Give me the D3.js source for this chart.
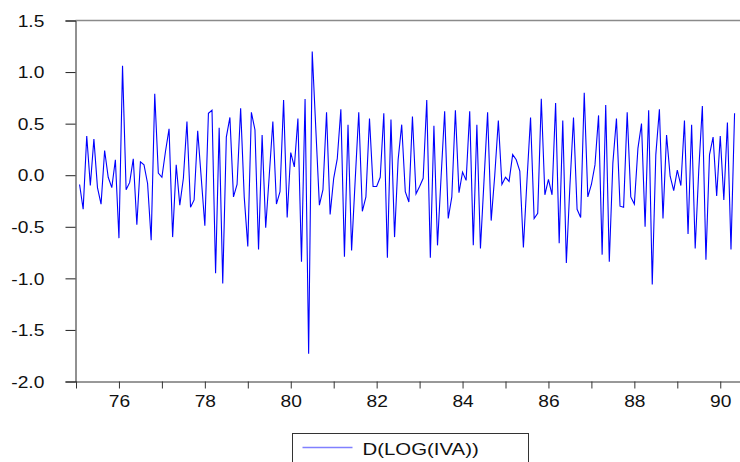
<!DOCTYPE html>
<html>
<head>
<meta charset="utf-8">
<script src="https://cdn.jsdelivr.net/npm/d3@7"></script>
<style>
  body { margin: 0; background: #fff; }
  svg { display: block; }
  .axis text { font-family: "Liberation Sans", Arial, sans-serif; font-size: 16px; fill: #111; }
</style>
</head>
<body>
<div id="root"></div>
<script>
// monthly series, first obs 1975M2
const startYear = 1975,
    startMonth = 2;

const dlogIva = [
    -0.09, -0.33, 0.38, -0.10, 0.35, -0.12, -0.28, 0.24, -0.02, -0.12, 0.15, -0.61,
    1.06, -0.14, -0.07, 0.16, -0.48, 0.13, 0.10, -0.08, -0.63, 0.79, 0.02, -0.02,
    0.23, 0.45, -0.60, 0.10, -0.29, -0.03, 0.52, -0.31, -0.24, 0.43, -0.03, -0.49,
    0.60, 0.63, -0.95, 0.46, -1.05, 0.37, 0.56, -0.21, -0.09, 0.65, -0.21, -0.69,
    0.61, 0.44, -0.72, 0.39, -0.51, 0.00, 0.52, -0.28, -0.16, 0.73, -0.41, 0.22,
    0.08, 0.55, -0.84, 0.74, -1.73, 1.20, 0.45, -0.29, -0.14, 0.61, -0.38, -0.03,
    0.16, 0.64, -0.79, 0.49, -0.73, -0.05, 0.61, -0.35, -0.21, 0.55, -0.11, -0.11,
    -0.02, 0.60, -0.80, 0.54, -0.60, 0.15, 0.49, -0.16, -0.26, 0.57, -0.18, -0.11,
    -0.03, 0.73, -0.80, 0.48, -0.68, -0.02, 0.62, -0.42, -0.21, 0.63, -0.17, 0.03,
    -0.05, 0.62, -0.68, 0.49, -0.71, -0.05, 0.61, -0.44, 0.00, 0.53, -0.09, -0.02,
    -0.06, 0.20, 0.15, 0.04, -0.70, -0.05, 0.56, -0.42, -0.37, 0.74, -0.19, -0.04,
    -0.19, 0.70, -0.66, 0.53, -0.85, -0.10, 0.56, -0.33, -0.41, 0.80, -0.21, -0.09,
    0.10, 0.58, -0.77, 0.68, -0.84, 0.12, 0.55, -0.30, -0.31, 0.61, -0.21, -0.28,
    0.26, 0.50, -0.50, 0.63, -1.06, 0.20, 0.64, -0.42, 0.39, -0.01, -0.15, 0.05,
    -0.10, 0.53, -0.57, 0.49, -0.71, 0.05, 0.67, -0.82, 0.20, 0.37, -0.20, 0.38,
    -0.24, 0.51, -0.72, 0.60
];

const yTicks = [-2.0, -1.5, -1.0, -0.5, 0.0, 0.5, 1.0, 1.5];
const xTicks = d3.range(1975, 1991);
const legendLabel = "D(LOG(IVA))";

const width = 740,
    height = 462;

const plotLeft = 75.5,
    plotTop = 20.5,
    plotBottom = 381.5;

const svg = d3.select("#root").append("svg")
    .attr("width", width)
    .attr("height", height);

const x = d3.scaleLinear()
    .domain([1975, 1975 + (width - 76) / 42.95])
    .range([76, width]);

const y = d3.scaleLinear()
    .domain([-2, 1.5])
    .range([plotBottom, plotTop]);

const points = dlogIva.map((v, i) => ({
    t: startYear + (startMonth - 1 + i) / 12,
    v: v
}));

// top frame line
svg.append("line")
    .attr("x1", plotLeft).attr("x2", width)
    .attr("y1", plotTop).attr("y2", plotTop)
    .attr("stroke", "#8a8a8a")
    .attr("stroke-width", 1.3);

// y axis
const yAxis = svg.append("g")
    .attr("class", "axis")
    .attr("transform", "translate(" + plotLeft + ",0)")
    .call(d3.axisLeft(y).tickValues(yTicks).tickSize(10).tickPadding(0)
        .tickFormat(d => d.toFixed(1)));
yAxis.select(".domain").attr("stroke", "#222");
yAxis.selectAll(".tick line").attr("stroke", "#222");
yAxis.selectAll(".tick text")
    .attr("x", -26)
    .attr("dy", "0.36em")
    .attr("transform", "scale(1.2,1)");

// x axis
const xAxis = svg.append("g")
    .attr("class", "axis")
    .attr("transform", "translate(0," + plotBottom + ")")
    .call(d3.axisBottom(x).tickValues(xTicks).tickSize(7).tickSizeOuter(0)
        .tickFormat(d => d % 2 === 0 ? String(d % 100) : ""));
xAxis.select(".domain").attr("stroke", "#333").attr("d", "M" + plotLeft + ",0.5H" + width);
xAxis.selectAll(".tick line").attr("stroke", "#333");
xAxis.selectAll(".tick text")
    .attr("y", 25.2)
    .attr("dy", 0)
    .attr("transform", "scale(1.2,1)");

// series
const line = d3.line()
    .x(d => x(d.t))
    .y(d => y(d.v));

svg.append("path")
    .datum(points)
    .attr("fill", "none")
    .attr("stroke", "#0000ff")
    .attr("stroke-width", 1.1)
    .attr("stroke-linejoin", "miter")
    .attr("d", line);

// legend
const legend = svg.append("g").attr("transform", "translate(292.5,433.5)");
legend.append("rect")
    .attr("width", 236)
    .attr("height", 40)
    .attr("fill", "none")
    .attr("stroke", "#333");
legend.append("line")
    .attr("x1", 10).attr("x2", 60)
    .attr("y1", 14).attr("y2", 14)
    .attr("stroke", "#8080ff")
    .attr("stroke-width", 1.5);
legend.append("text")
    .attr("transform", "translate(70,21.5) scale(1.2,1)")
    .style("font-family", "'Liberation Sans', Arial, sans-serif")
    .style("font-size", "17px")
    .attr("fill", "#111")
    .text(legendLabel);
</script>
</body>
</html>
